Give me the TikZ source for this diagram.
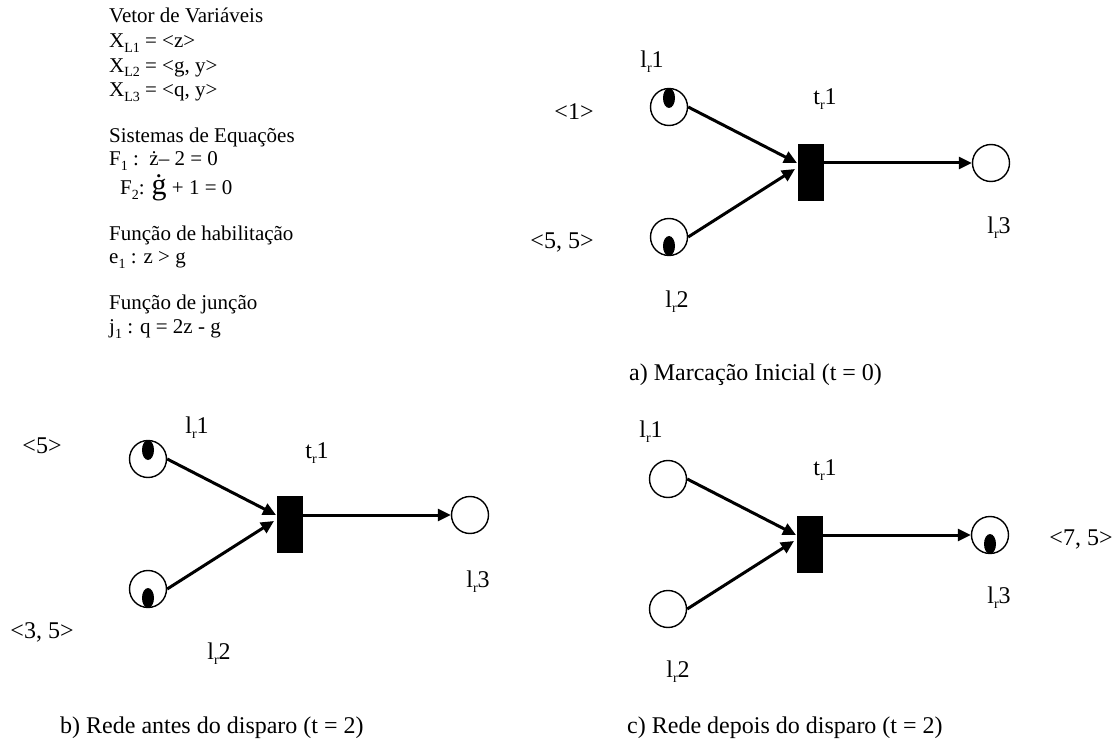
\documentclass[tikz,border=0pt]{standalone}
\usepackage{fontspec}
\setmainfont{Liberation Serif}
\usetikzlibrary{arrows.meta,shapes.geometric}

% small lowered index, as in l_r1, X_L1, F_1
\newcommand\lowsub[2][14]{\raisebox{-0.2em}{\fontsize{#1}{#1}\selectfont #2}}

\begin{document}
\begin{tikzpicture}[x=1pt,y=-1pt,
  place/.style={circle,draw,line width=1.4pt,minimum size=37pt,inner sep=0pt},
  trans/.style={rectangle,fill=black,minimum width=26pt,minimum height=57pt,inner sep=0pt},
  token/.style={ellipse,fill=black,minimum width=12pt,minimum height=20pt,inner sep=0pt},
  arcline/.style={line width=3pt,-{Triangle[length=13pt,width=12pt]}},
  lbl/.style={font=\fontsize{24}{28}\selectfont,inner sep=0pt},
  txt/.style={font=\fontsize{21}{24}\selectfont,anchor=base west,inner sep=0pt},
  captext/.style={font=\fontsize{24}{28}\selectfont,anchor=base west,inner sep=0pt}]

\useasboundingbox (0,0) rectangle (1117,743);

% ---- variables, equations, enabling and junction functions
\node[txt] (t1) at (109,23) {Vetor de Variáveis};
\node[txt] (t2) at (109,48) {X\lowsub{L1} = <z>};
\node[txt] (t3) at (109,72.5) {X\lowsub{L2} = <g, y>};
\node[txt] (t4) at (109,97) {X\lowsub{L3} = <q, y>};
\node[txt] (t5) at (109,143) {Sistemas de Equações};
\node[txt] (t6) at (109,166) {F\lowsub{1} :\, ż– 2 = 0};
\node[txt] (t7) at (120,195) {F\lowsub{2}: {\fontsize{30}{30}\selectfont ġ} + 1 = 0};
\node[txt] (t8) at (109,241) {Função de habilitação};
\node[txt] (t9) at (109,264) {e\lowsub{1} : z > g};
\node[txt] (t10) at (109,310) {Função de junção};
\node[txt] (t11) at (109,334) {j\lowsub{1} : q = 2z - g};

% ---- a) initial marking
\begin{scope}[shift={(669,107)}]
  \node[place] (a1) at (0,0) {};
  \node[place] (a2) at (0,130) {};
  \node[trans] (at) at (142,65.5) {};
  \node[place] (a3) at (322,56) {};
  \node[token] (a1k) at (0,-9) {};
  \node[token] (a2k) at (0,139) {};
  \coordinate (ain1) at (128,56);
  \coordinate (ain2) at (126,62);
  \draw[arcline] (a1.east) -- (ain1);
  \draw[arcline] (a2.east) -- (ain2);
  \draw[arcline] (at.east |- a3) -- (a3.west);
  \node[lbl] (a1l) at (-17,-45) {l\lowsub{r}1};
  \node[lbl] (atl) at (156,-8) {t\lowsub{r}1};
  \node[lbl] (a3l) at (330,121) {l\lowsub{r}3};
  \node[lbl] (a2l) at (8,195) {l\lowsub{r}2};
\end{scope}
\node[lbl] (a1v) at (574,112) {<1>};
\node[lbl] (a2v) at (562,242) {<5, 5>};
\node[captext] (acap) at (629,381) {a) Marcação Inicial (t = 0)};

% ---- b) net before firing
\begin{scope}[shift={(148,459)}]
  \node[place] (b1) at (0,0) {};
  \node[place] (b2) at (0,130) {};
  \node[trans] (bt) at (142,65.5) {};
  \node[place] (b3) at (322,56) {};
  \node[token] (b1k) at (0,-9) {};
  \node[token] (b2k) at (0,139) {};
  \coordinate (bin1) at (128,56);
  \coordinate (bin2) at (126,62);
  \draw[arcline] (b1.east) -- (bin1);
  \draw[arcline] (b2.east) -- (bin2);
  \draw[arcline] (bt.east |- b3) -- (b3.west);
  \node[lbl] (b1l) at (49,-31) {l\lowsub{r}1};
  \node[lbl] (btl) at (169,-6) {t\lowsub{r}1};
  \node[lbl] (b3l) at (330,123) {l\lowsub{r}3};
  \node[lbl] (b2l) at (71,195) {l\lowsub{r}2};
\end{scope}
\node[lbl] (b1v) at (42,446) {<5>};
\node[lbl] (b2v) at (42,632) {<3, 5>};
\node[captext] (bcap) at (60,733) {b) Rede antes do disparo (t = 2)};

% ---- c) net after firing
\begin{scope}[shift={(668,479)}]
  \node[place] (c1) at (0,0) {};
  \node[place] (c2) at (0,130) {};
  \node[trans] (ct) at (142,65.5) {};
  \node[place] (c3) at (322,56) {};
  \node[token] (c3k) at (322,65) {};
  \coordinate (cin1) at (128,56);
  \coordinate (cin2) at (126,62);
  \draw[arcline] (c1.east) -- (cin1);
  \draw[arcline] (c2.east) -- (cin2);
  \draw[arcline] (ct.east |- c3) -- (c3.west);
  \node[lbl] (c1l) at (-17,-47) {l\lowsub{r}1};
  \node[lbl] (ctl) at (157,-9) {t\lowsub{r}1};
  \node[lbl] (c3l) at (331,119) {l\lowsub{r}3};
  \node[lbl] (c2l) at (10,193) {l\lowsub{r}2};
\end{scope}
\node[lbl] (c3v) at (1081,539) {<7, 5>};
\node[captext] (ccap) at (627,733) {c) Rede depois do disparo (t = 2)};
\end{tikzpicture}
\end{document}
